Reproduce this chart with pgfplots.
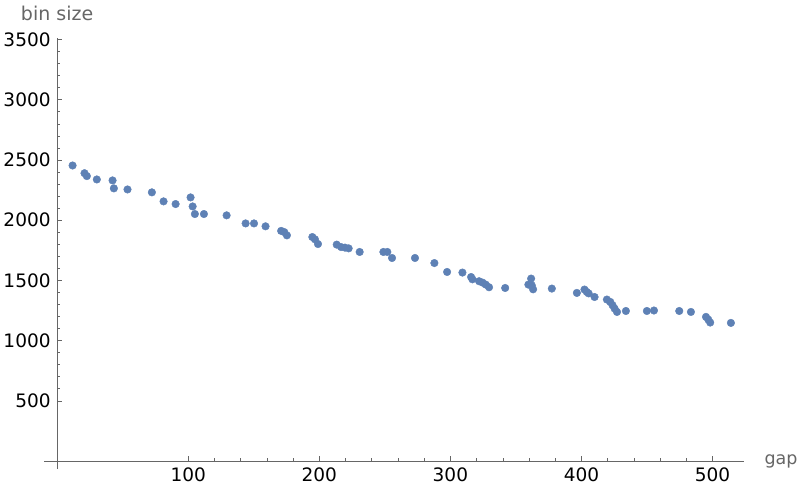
\documentclass[border=0pt]{standalone}
\usepackage{pgfplots}
\pgfplotsset{compat=1.18}
\usepackage{fontspec}
\setmainfont{DejaVu Sans}
\definecolor{mpt}{rgb}{0.368417,0.506779,0.709798}
\definecolor{axgray}{gray}{0.4}
\begin{document}
\begin{tikzpicture}[x=1pt,y=1pt]
\useasboundingbox (0,-492) rectangle (800,0);
\begin{axis}[
  at={(44pt,-469pt)}, anchor=south west,
  scale only axis, width=700pt, height=431.3pt,
  xmin=-10, xmax=524, ymin=-66, ymax=3515,
  axis lines=middle,
  axis line style={-, axgray, line width=0.7pt},
  xtick={100,200,300,400,500},
  ytick={500,1000,1500,2000,2500,3000,3500},
  minor x tick num=4, minor y tick num=4,
  tick align=inside,
  major tick length=4.6pt, minor tick length=2.7pt,
  tick style={axgray, line width=0.6pt},
  every tick label/.append style={font=\fontsize{18.5}{21}\selectfont, text=black},
  /pgf/number format/assume math mode=true,
  /pgf/number format/set thousands separator={},
  xticklabel style={yshift=-3pt},
  yticklabel style={xshift=-3pt},
  xlabel={gap}, ylabel={bin size},
  every axis x label/.style={at={(axis cs:524,0)}, anchor=west, xshift=17pt, font=\fontsize{17.5}{20}\selectfont, text=axgray},
  every axis y label/.style={at={(axis cs:0,3515)}, anchor=south, xshift=0pt, yshift=13pt, font=\fontsize{19}{22}\selectfont, text=axgray},
  clip=false,
]
\addplot[only marks, mark=*, color=mpt, mark size=3.8pt, mark options={solid, fill=mpt, draw=mpt, line width=0.4pt}] coordinates {
(11.8,2454) (20.9,2390) (22.7,2366) (30.3,2338) (42.3,2330) (43.3,2264)
(53.7,2255) (72.3,2231) (81.2,2156) (90.4,2134) (101.8,2189) (103.4,2114)
(105.1,2051) (112,2051) (129.3,2040) (143.8,1973) (150.2,1973) (159,1949)
(170.9,1911) (173.3,1901) (175.3,1874) (194.7,1860) (196.7,1841) (199,1802)
(213.3,1797) (216.6,1777) (219.6,1772) (222.4,1766) (230.8,1736) (248.9,1736)
(251.9,1736) (255.5,1686) (273,1686) (287.8,1644) (297.5,1570) (309.2,1565)
(315.8,1528) (316.8,1509) (321.9,1493) (324.5,1482) (327,1465) (329.5,1443)
(341.8,1437) (359.5,1465) (361.6,1515) (362.1,1459) (363.1,1426) (377.4,1432)
(396.5,1396) (402.3,1424) (404.1,1404) (405.5,1392) (410,1362) (419.4,1341)
(422,1321) (423.7,1294) (425.3,1266) (427.1,1238) (433.9,1246) (449.9,1246)
(455.3,1250) (474.6,1246) (483.5,1238) (495,1197) (496.7,1175) (498.2,1150)
(514,1147)
};
\end{axis}
\end{tikzpicture}
\end{document}
